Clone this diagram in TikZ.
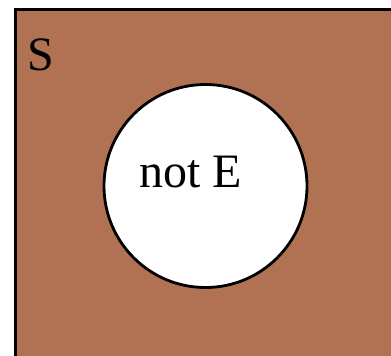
\documentclass[tikz,border=0pt]{standalone}
\usepackage{fontspec}
\setmainfont{Liberation Serif}
\definecolor{brownfill}{HTML}{B07252}
\tikzset{
  setbox/.style={draw=black, line width=3.5pt, fill=brownfill},
  eventcircle/.style={circle, draw=black, line width=2.8pt, fill=white, minimum size=203pt, inner sep=0pt},
  biglabel/.style={inner sep=0pt, font=\fontsize{48}{56}\selectfont, anchor=base west}
}
\begin{document}
\begin{tikzpicture}[x=1pt,y=1pt]
\useasboundingbox (0,0) rectangle (391,-356);
\clip (0,0) rectangle (391,-356);
\draw[setbox] (15.5,-9.5) rectangle (420,-380);
\node[eventcircle] (c) at (205.5,-186) {};
\node[biglabel] (s) at (27,-70) {S};
\node[biglabel] (ne) at (139,-187) {not E};
\end{tikzpicture}
\end{document}
